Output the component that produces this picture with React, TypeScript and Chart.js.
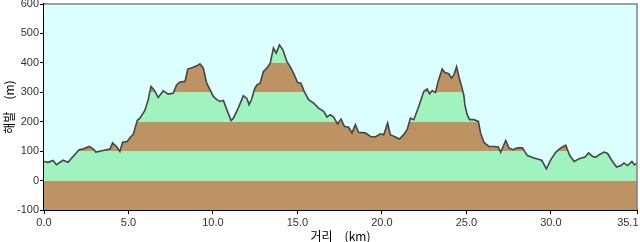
import React, { useEffect, useRef } from "react";
import { Chart, registerables } from "chart.js";

Chart.register(...registerables);

const distanceKm = [
  0.0, 0.24, 0.53, 0.74, 1.13, 1.42, 1.72, 2.08, 2.31, 2.67, 2.91, 3.07, 3.5, 3.9, 4.06, 4.29, 4.49, 4.65, 4.92,
  5.12, 5.28, 5.52, 5.68, 5.97, 6.17, 6.33, 6.47, 6.57, 6.76, 7.06, 7.35, 7.65, 7.85, 8.05, 8.35, 8.51, 8.84,
  9.04, 9.23, 9.43, 9.63, 9.83, 10.02, 10.23, 10.42, 10.62, 10.82, 11.07, 11.21, 11.47, 11.8, 12.0, 12.14,
  12.3, 12.46, 12.6, 12.79, 12.99, 13.19, 13.39, 13.58, 13.74, 13.94, 14.14, 14.38, 14.57, 14.77, 15.01,
  15.21, 15.4, 15.66, 15.96, 16.25, 16.55, 16.75, 16.95, 17.14, 17.38, 17.58, 17.78, 18.03, 18.23, 18.43,
  18.62, 19.02, 19.32, 19.61, 19.91, 20.11, 20.34, 20.5, 20.8, 21.04, 21.29, 21.49, 21.69, 21.89, 22.18,
  22.48, 22.68, 22.82, 22.98, 23.17, 23.33, 23.57, 23.72, 23.96, 24.12, 24.26, 24.42, 24.56, 24.72, 24.85,
  24.91, 25.05, 25.19, 25.44, 25.71, 25.84, 26.04, 26.33, 26.63, 26.89, 27.03, 27.33, 27.52, 27.76, 28.02,
  28.32, 28.61, 29.0, 29.46, 29.74, 30.0, 30.29, 30.59, 30.88, 31.12, 31.38, 31.67, 32.03, 32.23, 32.47,
  32.67, 32.86, 33.16, 33.36, 33.65, 33.89, 34.15, 34.33, 34.54, 34.8, 34.94, 35.1,
];

const elevationM = [
  65, 62, 68, 54, 69, 62, 82, 105, 107, 116, 108, 97, 102, 107, 128, 116, 99, 130, 133,
  148, 156, 204, 212, 238, 275, 320, 311, 303, 282, 305, 294, 297, 325, 335, 337, 379, 385,
  390, 397, 382, 331, 308, 286, 275, 269, 272, 241, 204, 212, 243, 288, 280, 258,
  278, 311, 325, 331, 371, 382, 399, 450, 433, 461, 444, 404, 387, 365, 333,
  331, 303, 275, 263, 246, 235, 216, 224, 216, 192, 209, 184, 181, 162, 190,
  164, 162, 150, 148, 159, 156, 196, 156, 148, 141, 156, 173, 212, 207, 252,
  303, 311, 295, 306, 299, 337, 379, 367, 363, 348, 359, 387, 353, 320, 290,
  258, 224, 207, 207, 201, 162, 130, 116, 116, 114, 96, 136, 111, 105, 111,
  111, 85, 77, 69, 40, 71, 96, 111, 120, 85, 65, 74, 80, 94, 82,
  80, 88, 97, 92, 65, 46, 51, 60, 51, 65, 54, 58,
];

const xTickValues = [0, 5, 10, 15, 20, 25, 30, 35.1];
const yMin = -100;
const yMax = 600;
const bandStep = 100;

const BROWN = "#bd9364";
const GREEN = "#a0f3bf";
const SKY = "#dcffff";
const NUM_FONT = "'Liberation Sans', Arial, sans-serif";
const KR_FONT = "'Noto Sans CJK KR', sans-serif";

const frame = {
  id: "frame",
  beforeDatasetsDraw(chart: any) {
    const { ctx, chartArea: a } = chart;
    ctx.save();
    ctx.fillStyle = SKY;
    ctx.fillRect(a.left, a.top, a.right - a.left, a.bottom - a.top);
    ctx.restore();
  },
  afterDatasetsDraw(chart: any) {
    const { ctx, chartArea: a } = chart;
    ctx.save();
    ctx.strokeStyle = "#808080";
    ctx.lineWidth = 1.5;
    ctx.beginPath();
    ctx.moveTo(a.left, a.top);
    ctx.lineTo(a.right, a.top);
    ctx.lineTo(a.right, a.bottom);
    ctx.stroke();
    ctx.restore();
  },
};

function bandFill(context: any) {
  const chart = context.chart;
  const { chartArea, scales } = chart;
  if (!chartArea || !scales.y) return BROWN;
  const y = scales.y;
  const y0 = y.getPixelForValue(yMin);
  const y1 = y.getPixelForValue(yMax);
  const g = chart.ctx.createLinearGradient(0, y0, 0, y1);
  const span = yMax - yMin;
  let k = 0;
  for (let v = yMin; v < yMax; v += bandStep, k++) {
    const c = k % 2 === 0 ? BROWN : GREEN;
    g.addColorStop((v - yMin) / span, c);
    g.addColorStop(Math.min(1, (v + bandStep - yMin) / span), c);
  }
  return g;
}

export default function App() {
  const ref = useRef<HTMLCanvasElement>(null);
  useEffect(() => {
    if (!ref.current) return;
    const points = distanceKm.map((d, i) => ({ x: d, y: elevationM[i] }));
    const chart = new Chart(ref.current, {
      type: "line",
      data: {
        datasets: [
          {
            data: points,
            borderColor: "#454545",
            borderWidth: 1.6,
            pointRadius: 0,
            tension: 0,
            fill: "start",
            backgroundColor: bandFill,
          },
        ],
      },
      plugins: [frame],
      options: {
        animation: false,
        responsive: false,
        layout: { padding: { left: 0, right: 3, top: 4, bottom: 0 } },
        plugins: { legend: { display: false }, tooltip: { enabled: false } },
        scales: {
          x: {
            type: "linear",
            min: 0,
            max: 35.1,
            afterBuildTicks: (s: any) => {
              s.ticks = xTickValues.map((v) => ({ value: v }));
            },
            afterFit: (s: any) => {
              s.height = 32;
              s.paddingLeft = 0;
              s.paddingRight = 0;
            },
            ticks: {
              autoSkip: false,
              maxRotation: 0,
              padding: 2,
              color: "#333",
              font: { family: NUM_FONT, size: 11 },
              callback: (v: any) => {
                const n = Number(v);
                return n === 35.1 ? "35.1      " : n.toFixed(1);
              },
            },
            grid: { drawOnChartArea: false, drawTicks: true, tickLength: 4, color: "#000" },
            border: { color: "#000", width: 2 },
            title: {
              display: true,
              text: "거리　(km)",
              color: "#000",
              font: { family: KR_FONT, size: 12 },
              padding: { top: 0, bottom: -2 },
            },
          },
          y: {
            min: yMin,
            max: yMax,
            afterFit: (s: any) => {
              s.width = 44;
              s.paddingTop = 0;
              s.paddingBottom = 0;
            },
            ticks: {
              stepSize: bandStep,
              padding: 1,
              color: "#333",
              font: { family: NUM_FONT, size: 11 },
            },
            grid: { drawOnChartArea: false, drawTicks: true, tickLength: 4, color: "#000" },
            border: { color: "#000", width: 2 },
            title: {
              display: true,
              text: "해발　(m)",
              color: "#000",
              font: { family: KR_FONT, size: 12 },
              padding: { top: 2, bottom: 0 },
            },
          },
        },
      },
    });
    return () => chart.destroy();
  }, []);
  return (
    <div style={{ position: "fixed", left: 0, top: 0, width: 640, height: 242, background: "#fff" }}>
      <canvas ref={ref} width={640} height={242} />
    </div>
  );
}
